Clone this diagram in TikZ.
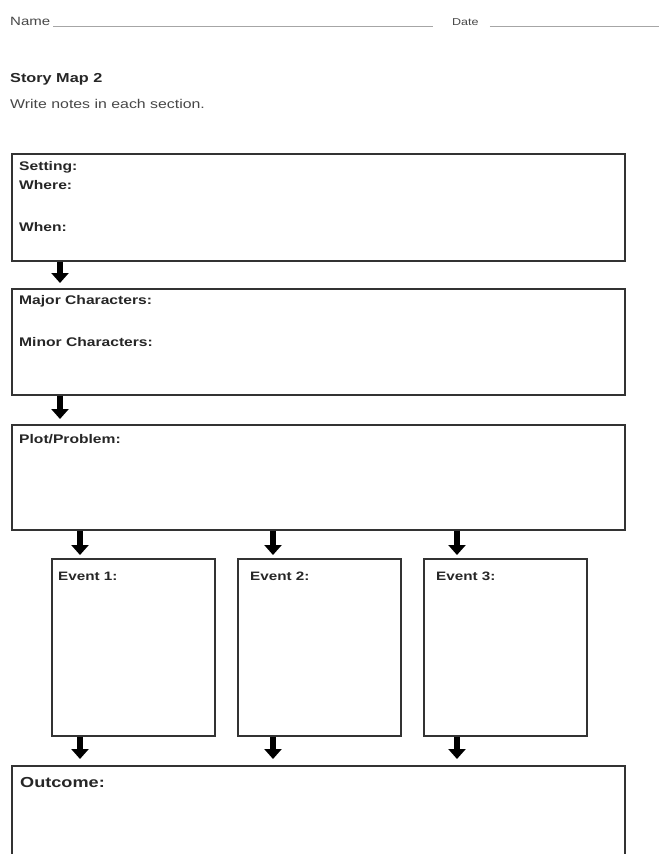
\documentclass[tikz,border=0pt]{standalone}
\usepackage{fontspec}
\setmainfont{Liberation Sans}[FakeStretch=1.25]
\usetikzlibrary{arrows.meta,calc}
\definecolor{ink}{HTML}{262626}
\definecolor{frame}{HTML}{333333}
\tikzset{
  box/.style={draw=frame, line width=1.6pt, anchor=north west, inner sep=0pt},
  lab/.style={anchor=base west, inner sep=0pt, text=ink, font=\bfseries\fontsize{12.5}{14}\selectfont},
  small/.style={anchor=base west, inner sep=0pt, text=ink!85, font=\fontsize{12}{14}\selectfont},
  bigarrow/.style={draw=black, line width=5.5pt, -{Triangle[width=17pt,length=10pt]}},
  rule/.style={draw=gray!70, line width=0.7pt}
}
\begin{document}
\begin{tikzpicture}[x=1pt,y=-1pt]
\useasboundingbox (0,0) rectangle (659,854);
\clip (0,0) rectangle (659,854);
\fill[white] (0,0) rectangle (659,854);
% header
\node[small] (name) at (10,25) {Name};
\coordinate (nameend) at (433,26);
\draw[rule] ($(name.base east)+(3,1)$) -- (nameend);
\node[small, font=\fontsize{10}{12}\selectfont] (date) at (452,25) {Date};
\coordinate (dateend) at (659,26);
\draw[rule] ($(date.base east)+(11,1)$) -- (dateend);
\node[lab, font=\bfseries\fontsize{13}{15}\selectfont] (title) at (10,82) {Story Map 2};
\node[small, font=\fontsize{12.7}{15}\selectfont] (sub) at (10,108) {Write notes in each section.};
% boxes
\node[box, minimum width=613pt, minimum height=107pt] (set) at (11,153) {};
\node[box, minimum width=613pt, minimum height=106pt] (chars) at (11,288) {};
\node[box, minimum width=613pt, minimum height=105pt] (plot) at (11,424) {};
\node[box, minimum width=163pt, minimum height=177pt] (ev1) at (51,558) {};
\node[box, minimum width=163pt, minimum height=177pt] (ev2) at (237,558) {};
\node[box, minimum width=163pt, minimum height=177pt] (ev3) at (423,558) {};
\node[box, minimum width=613pt, minimum height=110pt] (out) at (11,765) {};
% labels
\node[lab] (setl) at (19,170) {Setting:};
\node[lab] (where) at (19,189) {Where:};
\node[lab] (when) at (19,231) {When:};
\node[lab] (major) at (19,304) {Major Characters:};
\node[lab] (minor) at (19,346) {Minor Characters:};
\node[lab] (plotl) at (19,443) {Plot/Problem:};
\node[lab, font=\bfseries\fontsize{12.2}{14}\selectfont] (e1) at (58,580) {Event 1:};
\node[lab, font=\bfseries\fontsize{12.2}{14}\selectfont] (e2) at (250,580) {Event 2:};
\node[lab, font=\bfseries\fontsize{12.2}{14}\selectfont] (e3) at (436,580) {Event 3:};
\node[lab, font=\bfseries\fontsize{14.5}{16}\selectfont] (outl) at (20,787) {Outcome:};
% arrows
\draw[bigarrow] ($(set.south west)+(49,0)$) -- ($(chars.north west)+(49,-5)$);
\draw[bigarrow] ($(chars.south west)+(49,0)$) -- ($(plot.north west)+(49,-5)$);
\draw[bigarrow] ($(plot.south west)+(69,0)$) -- ($(ev1.north west)+(29,-3)$);
\draw[bigarrow] ($(plot.south west)+(262,0)$) -- ($(ev2.north west)+(36,-3)$);
\draw[bigarrow] ($(plot.south west)+(446,0)$) -- ($(ev3.north west)+(34,-3)$);
\draw[bigarrow] ($(ev1.south west)+(29,0)$) -- ($(out.north west)+(69,-6)$);
\draw[bigarrow] ($(ev2.south west)+(36,0)$) -- ($(out.north west)+(262,-6)$);
\draw[bigarrow] ($(ev3.south west)+(34,0)$) -- ($(out.north west)+(446,-6)$);
\end{tikzpicture}
\end{document}
